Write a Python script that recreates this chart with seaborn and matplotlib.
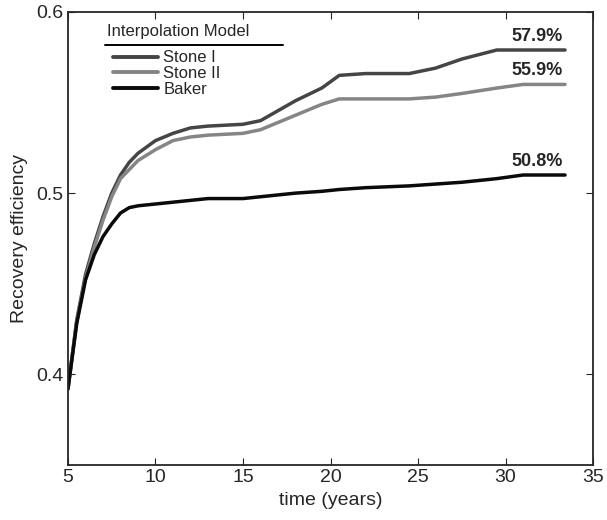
import numpy as np
import pandas as pd
import matplotlib
matplotlib.use('Agg')
import matplotlib.pyplot as plt
import seaborn as sns
from matplotlib.lines import Line2D

# values
years = [5, 5.5, 6, 6.5, 7, 7.5, 8, 8.5, 9, 10, 11, 12, 13, 15, 16, 18, 19.5, 20.5, 22, 24.5, 26, 27.5, 29.5, 31, 33.4]
stone1 = [0.392, 0.430, 0.455, 0.472, 0.487, 0.500, 0.510, 0.517, 0.522, 0.529, 0.533, 0.536, 0.537, 0.538, 0.540, 0.551, 0.558, 0.565, 0.566, 0.566, 0.569, 0.574, 0.579, 0.579, 0.579]
stone2 = [0.392, 0.429, 0.453, 0.470, 0.485, 0.498, 0.508, 0.513, 0.518, 0.524, 0.529, 0.531, 0.532, 0.533, 0.535, 0.543, 0.549, 0.552, 0.552, 0.552, 0.553, 0.555, 0.558, 0.560, 0.560]
baker = [0.392, 0.428, 0.452, 0.466, 0.476, 0.483, 0.489, 0.492, 0.493, 0.494, 0.495, 0.496, 0.497, 0.497, 0.498, 0.500, 0.501, 0.502, 0.503, 0.504, 0.505, 0.506, 0.508, 0.510, 0.510]
models = ['Stone I', 'Stone II', 'Baker']
final_labels = ['57.9%', '55.9%', '50.8%']
colors = ['#454545', '#858585', '#0a0a0a']

df = pd.DataFrame({
    'time': years * 3,
    'eff': stone1 + stone2 + baker,
    'model': [m for m in models for _ in years],
})

sns.set_style('ticks')
plt.rcParams['font.family'] = ['Liberation Sans', 'DejaVu Sans']

fig = plt.figure(figsize=(6.07, 5.2), dpi=100)
ax = fig.add_axes([0.112, 0.106, 0.865, 0.871])
sns.lineplot(data=df, x='time', y='eff', hue='model', palette=colors, linewidth=2.5, ax=ax, legend=False)

ax.set_xlim(5, 35)
ax.set_ylim(0.35, 0.6)
ax.set_xticks([5, 10, 15, 20, 25, 30, 35])
ax.set_yticks([0.4, 0.5, 0.6])
ax.set_yticklabels(['0.4', '0.5', '0.6'])
ax.tick_params(direction='in', top=True, right=True, labelsize=14, length=5, pad=3)
ax.set_xlabel('time (years)', fontsize=14, labelpad=4)
ax.set_ylabel('Recovery efficiency', fontsize=14, labelpad=6)
for s in ax.spines.values():
    s.set_linewidth(1.3)

ends = [stone1[-1], stone2[-1], baker[-1]]
for lab, y in zip(final_labels, ends):
    ax.text(years[-1] - 0.15, y + 0.003, lab, ha='right', va='bottom', fontsize=13, fontweight='bold')

# legend title with underline, then the entries
ax.text(0.074, 0.956, 'Interpolation Model', transform=ax.transAxes, ha='left', va='center', fontsize=12)
ax.add_line(Line2D([0.07, 0.41], [0.928, 0.928], transform=ax.transAxes, color='black', lw=1.4))
handles = [Line2D([], [], color=c, lw=2.8) for c in colors]
ax.legend(handles, models, loc='upper left', bbox_to_anchor=(0.086, 0.915), frameon=False,
          fontsize=12, handlelength=2.7, handletextpad=0.3, labelspacing=0.05,
          borderpad=0, borderaxespad=0)

fig.savefig('out.png', dpi=100)
